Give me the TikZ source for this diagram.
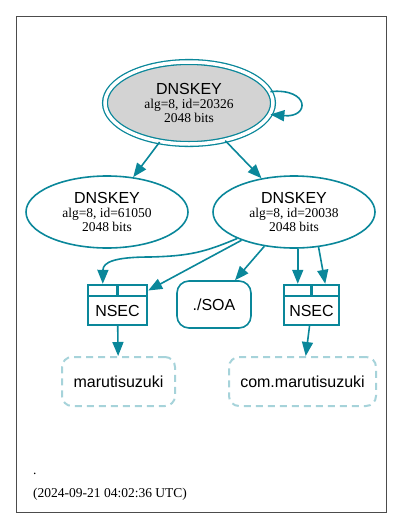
\documentclass[tikz,border=0pt]{standalone}
\usepackage{fontspec}
\setmainfont{Liberation Serif}
\setsansfont{Liberation Sans}
\usetikzlibrary{arrows.meta,shapes.geometric}
\definecolor{dnsteal}{HTML}{0A879A}
\definecolor{dnsdash}{HTML}{A6D3DA}
\definecolor{dnsgray}{HTML}{D3D3D3}

\begin{document}
\begin{tikzpicture}[x=1pt,y=-1pt,
  keytext/.style={align=center,font=\fontsize{13.5}{14}\selectfont},
  key/.style={ellipse,draw=dnsteal,line width=1.6pt,inner sep=0pt,
    minimum width=162pt,minimum height=72pt,keytext},
  cell/.style={rectangle,draw=dnsteal,line width=2.4pt,inner sep=0pt,minimum height=11pt},
  nsec/.style={rectangle,draw=dnsteal,line width=2.4pt,inner sep=0pt,minimum height=29pt,
    font=\sffamily\fontsize{16}{16}\selectfont},
  rrset/.style={rectangle,rounded corners=12pt,draw=dnsteal,line width=1.6pt,
    minimum width=74pt,minimum height=47pt,font=\sffamily\fontsize{16}{16}\selectfont},
  zone/.style={rectangle,rounded corners=10pt,draw=dnsdash,line width=2pt,
    dash pattern=on 7pt off 5pt,minimum height=49pt,font=\sffamily\fontsize{16}{16}\selectfont},
  edge/.style={draw=dnsteal,line width=1.6pt,-{Triangle[length=14pt,width=11pt]}},
  stamp/.style={font=\fontsize{13.5}{14}\selectfont,inner sep=0pt,anchor=base west}]

\useasboundingbox (0,0) rectangle (403,528);
\draw[black!70,line width=1pt] (16,16) rectangle (386,512);

% keys
\node[key,fill=dnsgray,double=white,double distance=3.5pt,line width=1.3pt,
  minimum width=168pt,minimum height=82pt] (key20326) at (189,103)
  {{\sffamily\fontsize{16}{14}\selectfont DNSKEY}\\alg=8, id=20326\\2048 bits};
\node[key] (key61050) at (107,212)
  {{\sffamily\fontsize{16}{14}\selectfont DNSKEY}\\alg=8, id=61050\\2048 bits};
\node[key] (key20038) at (294,212)
  {{\sffamily\fontsize{16}{14}\selectfont DNSKEY}\\alg=8, id=20038\\2048 bits};

% nsec
\node[nsec,minimum width=59pt] (nsecA) at (117.5,310.5) {NSEC};
\node[cell,minimum width=29.5pt] (nsecAa) at (102.75,290.5) {};
\node[cell,minimum width=29.5pt] (nsecAb) at (132.25,290.5) {};
\node[nsec,minimum width=55pt] (nsecB) at (311.5,310.5) {NSEC};
\node[cell,minimum width=27.5pt] (nsecBa) at (297.75,290.5) {};
\node[cell,minimum width=27.5pt] (nsecBb) at (325.25,290.5) {};

\node[rrset] (soa) at (214,304.5) {./SOA};

% zones
\node[zone,minimum width=113pt] (zoneA) at (118.5,381.5) {marutisuzuki};
\node[zone,minimum width=147pt] (zoneB) at (302.5,381.5) {com.marutisuzuki};

% edges
\draw[edge] (key20326.8) .. controls (310,88) and (310,118) .. (key20326.-8);
\draw[edge] (key20326) -- (key61050);
\draw[edge] (key20326) -- (key20038);
\draw[edge] (key20038.205) .. controls (205,252) and (190,256) .. (150,257)
  .. controls (115,257) and (103,262) .. (nsecAa.north);
\draw[edge] (key20038) -- (nsecAb.east);
\draw[edge] (key20038) -- (soa);
\draw[edge] (key20038.south -| nsecBa.north) -- (nsecBa.north);
\draw[edge] (key20038.305) -- (nsecBb.north);
\draw[edge] (nsecA) -- (zoneA);
\draw[edge] (nsecB) -- (zoneB);

\node[stamp] (apex) at (33,474) {.};
\node[stamp] (date) at (33,497) {(2024-09-21 04:02:36 UTC)};

\end{tikzpicture}
\end{document}
